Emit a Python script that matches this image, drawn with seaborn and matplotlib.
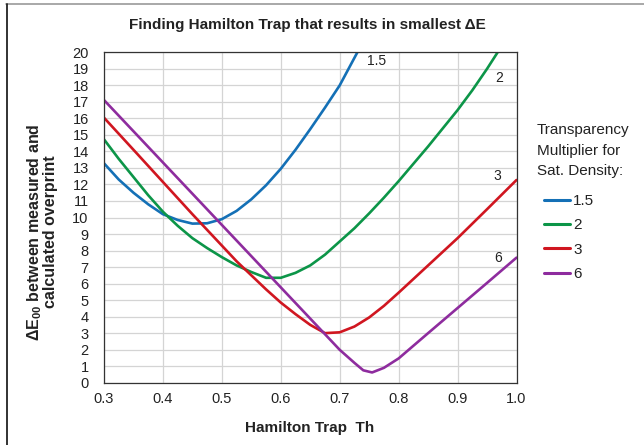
import matplotlib
matplotlib.use("Agg")
import matplotlib.pyplot as plt
from matplotlib.lines import Line2D
import seaborn as sns
import pandas as pd

# Hamilton trap values and resulting colour difference for each multiplier
x_15 = [0.30, 0.325, 0.35, 0.375, 0.40, 0.425, 0.45, 0.475, 0.50, 0.525, 0.55, 0.575,
        0.60, 0.625, 0.65, 0.675, 0.70, 0.73]
y_15 = [13.28, 12.3, 11.5, 10.8, 10.2, 9.85, 9.63, 9.65, 9.9, 10.4, 11.1, 11.95,
        12.95, 14.1, 15.35, 16.65, 18.0, 20.0]

x_2 = [0.30, 0.325, 0.35, 0.375, 0.40, 0.425, 0.45, 0.475, 0.50, 0.525, 0.55, 0.575,
       0.60, 0.625, 0.65, 0.675, 0.70, 0.725, 0.75, 0.775, 0.80, 0.825, 0.85, 0.875,
       0.90, 0.925, 0.95, 0.968]
y_2 = [14.73, 13.55, 12.45, 11.35, 10.35, 9.5, 8.75, 8.15, 7.6, 7.1, 6.7, 6.35,
       6.35, 6.65, 7.1, 7.75, 8.55, 9.35, 10.25, 11.2, 12.2, 13.25, 14.3, 15.4,
       16.5, 17.7, 19.0, 20.0]

x_3 = [0.30, 0.35, 0.40, 0.45, 0.50, 0.525, 0.55, 0.575, 0.60, 0.625, 0.65, 0.675,
       0.70, 0.725, 0.75, 0.775, 0.80, 0.85, 0.90, 0.95, 1.00]
y_3 = [16.04, 14.1, 12.15, 10.2, 8.3, 7.35, 6.5, 5.65, 4.85, 4.15, 3.5, 3.0,
       3.05, 3.4, 3.95, 4.65, 5.45, 7.1, 8.75, 10.5, 12.27]

x_6 = [0.30, 0.35, 0.40, 0.45, 0.50, 0.55, 0.60, 0.65, 0.70, 0.725, 0.74, 0.755,
       0.775, 0.80, 0.85, 0.90, 0.95, 1.00]
y_6 = [17.11, 15.22, 13.33, 11.44, 9.55, 7.66, 5.77, 3.88, 1.99, 1.2, 0.75, 0.62,
       0.9, 1.47, 3.0, 4.52, 6.04, 7.57]

multipliers = ["1.5", "2", "3", "6"]
x_ticks = [0.3, 0.4, 0.5, 0.6, 0.7, 0.8, 0.9, 1.0]
x_tick_labels = ["0.3", "0.4", "0.5", "0.6", "0.7", "0.8", "0.9", "1.0"]
y_ticks = list(range(0, 21))

frames = []
for m, xs, ys in zip(multipliers, [x_15, x_2, x_3, x_6], [y_15, y_2, y_3, y_6]):
    frames.append(pd.DataFrame({"Th": xs, "dE": ys, "mult": m}))
df = pd.concat(frames, ignore_index=True)

palette = {"1.5": "#1470B6", "2": "#0C9548", "3": "#D01620", "6": "#8E2C9E"}
ink = "#222222"

sns.set_theme(style="white")
plt.rcParams["font.family"] = ["Liberation Sans", "DejaVu Sans"]
plt.rcParams["mathtext.fontset"] = "custom"
plt.rcParams["mathtext.rm"] = "Liberation Sans"
plt.rcParams["mathtext.bf"] = "Liberation Sans:bold"

fig = plt.figure(figsize=(6.44, 4.45), dpi=100)
ax = fig.add_axes([104 / 644, 1 - 382.7 / 445, (516.5 - 104) / 644, (382.7 - 52.3) / 445])

sns.lineplot(data=df, x="Th", y="dE", hue="mult", hue_order=multipliers,
             palette=palette, linewidth=1.9, sort=False, estimator=None, ax=ax)

ax.set_xlim(0.3, 1.0)
ax.set_ylim(0, 20)
ax.set_xticks(x_ticks)
ax.set_xticklabels(x_tick_labels)
ax.set_yticks(y_ticks)
ax.tick_params(axis="x", labelsize=10.5, colors=ink, length=0, pad=7)
ax.tick_params(axis="y", labelsize=10.5, colors=ink, length=0, pad=11)
ax.grid(True, color="#d4d4d4", linewidth=0.9)
ax.set_axisbelow(True)
for s in ax.spines.values():
    s.set_color("#333333")
    s.set_linewidth(0.9)

ax.set_xlabel("Hamilton Trap  Th", fontsize=11, fontweight="bold", color=ink)
ax.xaxis.set_label_coords((310 - 104) / 412.5, (382.7 - 421) / 330.4)
ax.set_ylabel("$\\mathbf{\\Delta E_{00}}$ between measured and\ncalculated overprint",
              fontsize=11.5, fontweight="bold", color=ink, linespacing=0.9)
ax.yaxis.set_label_coords((58 - 104) / 412.5, (382.7 - 232) / 330.4)

fig.text(307 / 644, 1 - 25 / 445, "Finding Hamilton Trap that results in smallest \u0394E",
         ha="center", va="center", fontsize=11, fontweight="bold", color=ink)

# Curve end labels
for lbl, lx, ly in [("1.5", 0.763, 19.47), ("2", 0.970, 18.45), ("3", 0.967, 12.5), ("6", 0.968, 7.55)]:
    ax.text(lx, ly, lbl, ha="center", va="center", fontsize=10, color=ink)

# Legend heading and entries
fig.text(537 / 644, 1 - 123 / 445, "Transparency\nMultiplier for\nSat. Density:",
         ha="left", va="top", fontsize=11, color=ink, linespacing=1.6)
sns.move_legend(ax, loc="upper left", bbox_to_anchor=(544 / 644, 1 - 194 / 445),
                bbox_transform=fig.transFigure, frameon=False, title=None,
                fontsize=11, borderpad=0, borderaxespad=0,
                handlelength=1.7, handletextpad=0.2, labelspacing=0.68)
leg = ax.get_legend()
for line in leg.get_lines():
    line.set_linewidth(2.2)
for t in leg.get_texts():
    t.set_color(ink)

# Outer frame lines along the top and left edges
fig.add_artist(Line2D([6 / 644, 1], [1 - 3.5 / 445, 1 - 3.5 / 445], color="#9a9a9a", linewidth=1.2))
fig.add_artist(Line2D([6.5 / 644, 6.5 / 644], [0, 1 - 3.5 / 445], color="#222222", linewidth=1.3))

fig.savefig("out.png", dpi=100)
